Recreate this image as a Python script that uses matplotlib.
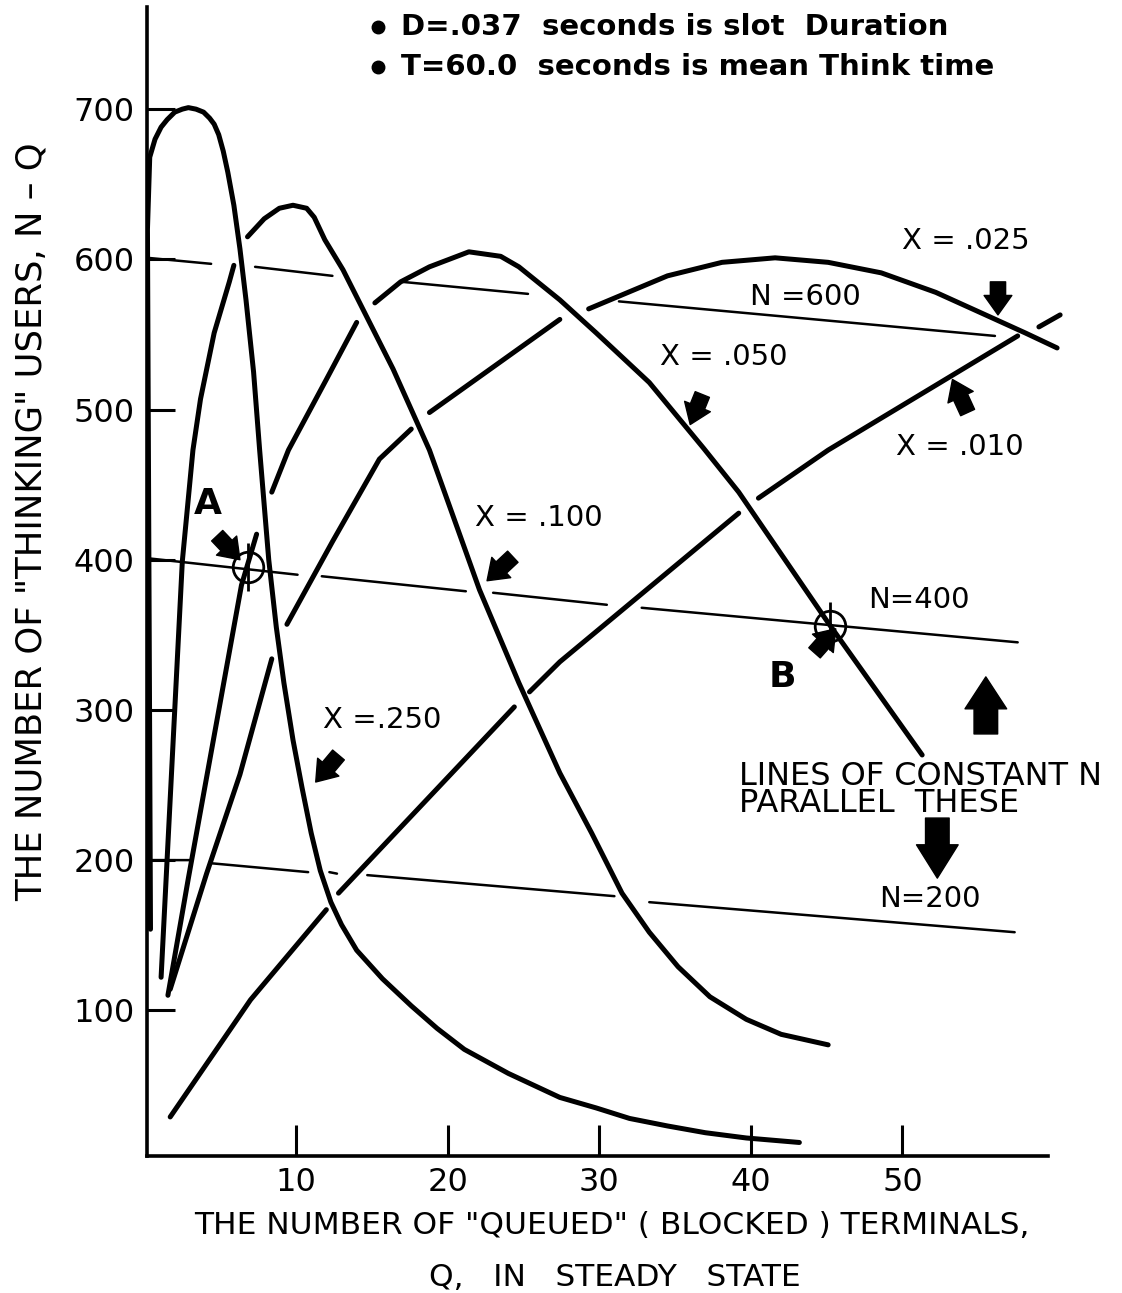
import numpy as np
import matplotlib
matplotlib.use("Agg")
import matplotlib.pyplot as plt
from matplotlib.patches import FancyArrowPatch

nan = np.nan

# ---- data (Q, N-Q); NaN marks a drafting gap ----
x250_q = [0.4, 0.2, 0.35, 0.7, 1.1, 1.5, 2.0, 2.5, 2.9, 3.4, 3.9, 4.3, 4.6, 4.9, 5.2, 5.5,
          5.9, 6.3, 6.7, 7.2, 7.6, 8.2, 8.7, 9.2, 9.8, 10.4, 11.0, 11.6, 12.3, 13.0, 14.0,
          15.7, 17.6, 19.3, 21.1, 24.0, 27.4, 29.8, 32.0, 34.5, 37.0, 39.7, 43.2]
x250_y = [154, 620, 668, 680, 688, 693, 698, 700, 701, 700, 698, 694, 690, 683, 672, 658,
          636, 607, 573, 525, 473, 400, 355, 318, 280, 248, 218, 193, 172, 157, 140,
          121, 103, 88, 74, 58, 42, 35, 28, 23, 18.5, 15, 12]

x100_q = [1.1, 2.5, 3.2, 3.7, 4.6, 5.6, 5.9, nan, 6.8, 7.9, 8.9, 9.8, 10.7, 11.2, 11.9, 13.1,
          14.0, 16.4, 18.8, 22.1, 24.7, 27.4, 29.5, 31.5, 33.3, 35.2, 37.3, 39.7, 42.0, 45.1]
x100_y = [122, 399, 473, 507, 551, 585, 596, nan, 615, 627, 634, 636, 634, 628, 613, 593,
          575, 527, 473, 380, 318, 258, 218, 178, 152, 129, 109, 94, 84, 77]

x050_q = [1.55, 2.9, 4.1, 6.4, 7.4, nan, 8.4, 9.5, 12.0, 14.0, nan, 15.2, 16.9, 18.8, 21.4,
          23.5, 24.7, 27.4, 29.8, 33.3, 36.9, 39.2, 45.1, 48.2, 51.3]
x050_y = [110, 188, 255, 383, 417, nan, 445, 473, 520, 558, nan, 571, 585, 595, 605,
          602, 595, 573, 551, 518, 474, 445, 358, 314, 270]

x025_q = [1.7, 4.1, 6.3, 8.4, nan, 9.4, 12.4, 15.5, 17.6, nan, 18.8, 27.4, nan, 29.3, 34.5,
          38.1, 41.6, 45.1, 48.6, 52.2, 55.7, 58.1, 60.2]
x025_y = [114, 191, 257, 334, nan, 357, 412, 467, 487, nan, 498, 560, nan, 567, 589,
          598, 601, 598, 591, 578, 562, 551, 541]

x010_q = [1.7, 7.0, 12.0, nan, 12.8, 24.4, nan, 25.4, 27.4, 39.2, nan, 40.5, 45.1, 57.6,
          nan, 59.0, 60.4]
x010_y = [29, 107, 167, nan, 178, 302, nan, 312, 332, 431, nan, 441, 473, 549,
          nan, 555, 563]

# lines of constant N
n600_q = [0.2, 4.4, nan, 7.3, 12.4, nan, 17.0, 25.3, nan, 31.3, 56.1]
n600_y = [601, 597, nan, 595, 589, nan, 585, 577, nan, 572, 549]
n400_q = [0.2, 10.1, nan, 11.7, 21.2, nan, 23.0, 30.5, nan, 32.8, 57.6]
n400_y = [401, 390, nan, 389, 379, nan, 378, 370, nan, 368, 345]
n200_q = [0.2, 3.0, nan, 4.3, 10.8, nan, 12.2, 12.7, nan, 14.7, 31.0, nan, 33.3, 57.4]
n200_y = [200, 200, nan, 198, 192, nan, 192, 191, nan, 190, 176, nan, 172, 152]

# marked operating points A and B
mark_q = [6.8, 45.2]
mark_y = [395, 356]

xticks = [10, 20, 30, 40, 50]
yticks = [100, 200, 300, 400, 500, 600, 700]

# ---- figure ----
W, H = 1122, 1293
fig = plt.figure(figsize=(W / 100, H / 100), dpi=100)
ax = fig.add_axes([147 / W, 1 - 1156 / H, (1048 - 147) / W, (1156 - 7) / H])
ax.set_xlim(0.17, 59.6)
ax.set_ylim(3, 768)

FONT = "DejaVu Sans"
K = "black"

for sp in ("top", "right"):
    ax.spines[sp].set_visible(False)
for sp in ("left", "bottom"):
    ax.spines[sp].set_linewidth(2.6)

ax.set_xticks(xticks)
ax.set_yticks(yticks)
ax.set_xticklabels([str(v) for v in xticks], fontsize=23, family=FONT)
ax.set_yticklabels([str(v) for v in yticks], fontsize=23, family=FONT)
ax.tick_params(axis="x", direction="in", length=22, width=2.2, pad=8)
ax.tick_params(axis="y", direction="in", length=20, width=2.2, pad=9)

thick = dict(color=K, lw=3.6, solid_capstyle="round", solid_joinstyle="round")
thin = dict(color=K, lw=1.8, solid_capstyle="round")

ax.plot(n600_q, n600_y, **thin)
ax.plot(n400_q, n400_y, **thin)
ax.plot(n200_q, n200_y, **thin)
ax.plot(x250_q, x250_y, **thick)
ax.plot(x100_q, x100_y, **thick)
ax.plot(x050_q, x050_y, **thick)
ax.plot(x025_q, x025_y, clip_on=False, **thick)
ax.plot(x010_q, x010_y, clip_on=False, **thick)

# marked points
ax.plot(mark_q, mark_y, "o", ms=22, mfc="none", mec=K, mew=2.0)
ax.plot(mark_q, mark_y, "|", ms=34, mec=K, mew=2.0)

# text annotations
lab = dict(fontsize=21, family=FONT, ha="center", va="center", color=K)
ax.text(54.2, 612, "X = .025", **lab)
ax.text(43.6, 575, "N =600", **lab)
ax.text(38.2, 535, "X = .050", **lab)
ax.text(53.8, 475, "X = .010", **lab)
ax.text(26.0, 428, "X = .100", **lab)
ax.text(51.1, 373.5, "N=400", **lab)
ax.text(15.7, 293.6, "X =.250", **lab)
ax.text(51.8, 173.8, "N=200", **lab)
ax.text(4.2, 437, "A", fontsize=26, family=FONT, weight="bold", ha="center", va="center")
ax.text(42.1, 321.6, "B", fontsize=26, family=FONT, weight="bold", ha="center", va="center")
ax.text(39.2, 246.5, "LINES OF CONSTANT N\nPARALLEL  THESE", fontsize=23, family=FONT,
        ha="left", va="center", linespacing=0.82)

# legend notes
ax.plot([15.4, 15.4], [755, 728], "o", ms=9, color=K, clip_on=False)
ax.text(16.9, 755, "D=.037  seconds is slot  Duration", fontsize=21, family=FONT,
        weight="bold", ha="left", va="center")
ax.text(16.9, 728, "T=60.0  seconds is mean Think time", fontsize=21, family=FONT,
        weight="bold", ha="left", va="center")

# arrows
def arrow(p0, p1, hl=14, hw=20, tw=11):
    a = FancyArrowPatch(p0, p1, arrowstyle=f"simple,head_length={hl},head_width={hw},tail_width={tw}",
                        mutation_scale=1, color=K, shrinkA=0, shrinkB=0, clip_on=False)
    ax.add_patch(a)

arrow((56.3, 585), (56.3, 563))
arrow((36.8, 510), (36.0, 490))
arrow((54.3, 498), (53.3, 520))
arrow((24.3, 402), (22.6, 386))
arrow((12.8, 270), (11.3, 252))
arrow((4.8, 416), (6.3, 400))
arrow((44.2, 338), (45.6, 354))
arrow((55.5, 284), (55.5, 322), hl=23, hw=30, tw=17)
arrow((52.3, 228), (52.3, 188), hl=24, hw=30, tw=17)

# axis titles
fig.text(32 / W, 1 - 522 / H, 'THE NUMBER OF "THINKING" USERS, N – Q', rotation=90,
         fontsize=25.5, family=FONT, ha="center", va="center")
fig.text(612 / W, 1 - 1225 / H, 'THE NUMBER OF "QUEUED" ( BLOCKED ) TERMINALS,',
         fontsize=22.5, family=FONT, ha="center", va="center")
fig.text(615 / W, 1 - 1277 / H, "Q,   IN   STEADY   STATE", fontsize=22.5, family=FONT,
         ha="center", va="center")

fig.savefig("out.png", dpi=100, facecolor="white")
